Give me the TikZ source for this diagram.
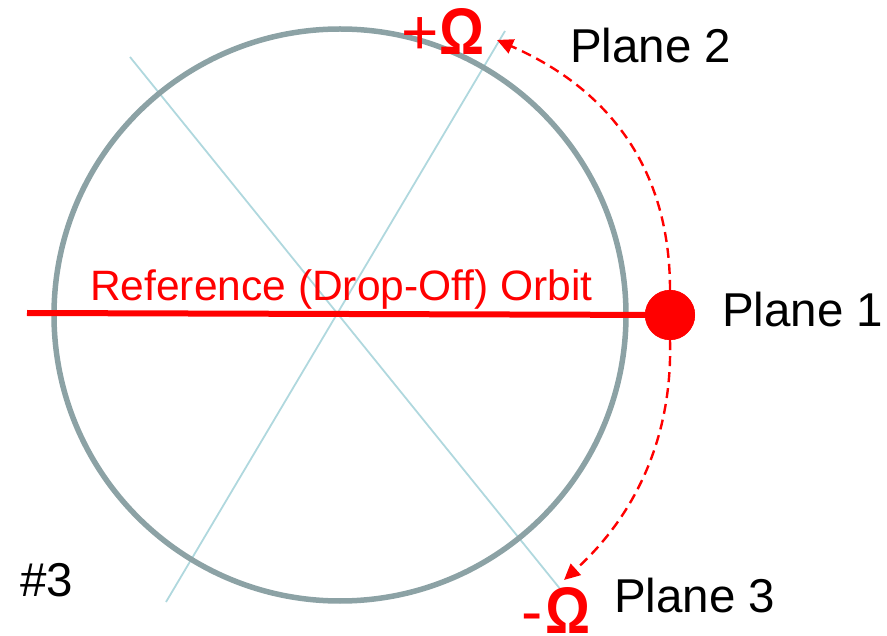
\documentclass[tikz,border=0pt]{standalone}
\usepackage{fontspec}
\usepackage{graphicx}
\setmainfont{Liberation Sans}
\usetikzlibrary{arrows.meta}
\definecolor{orbitgray}{RGB}{140,162,165}
\definecolor{planeblue}{RGB}{176,216,222}
\definecolor{myred}{RGB}{255,0,0}
\newcommand{\omg}{\resizebox{45pt}{46pt}{\bfseries\fontsize{60}{62}\selectfont Ω}}
\begin{document}
\begin{tikzpicture}[x=1pt,y=-1pt,
  lbl/.style={inner sep=0pt, anchor=base west, font=\fontsize{47.5}{50}\selectfont},
  redlbl/.style={inner sep=0pt, anchor=base west, text=myred, font=\fontsize{42.5}{46}\selectfont},
  omega/.style={inner sep=0pt, anchor=base west, text=myred, font=\fontsize{64}{66}\selectfont},
  planeline/.style={draw=planeblue, line width=1.8pt},
  moveline/.style={draw=myred, line width=2.4pt, dash pattern=on 10pt off 6pt, -{Triangle[length=16pt,width=15pt]}}]
\useasboundingbox (0,0) rectangle (887,636);
% plane lines
\coordinate (p2a) at (505,31);
\coordinate (p2b) at (166,602);
\coordinate (p3a) at (130,57);
\coordinate (p3b) at (561,590);
\draw[planeline] (p2a) -- (p2b);
\draw[planeline] (p3a) -- (p3b);
% orbit circle
\coordinate (c) at (340,315);
\draw[orbitgray, line width=5.5pt] (c) circle[radius=286];
% reference orbit line
\coordinate (refL) at (27,313);
\node[circle, fill=myred, minimum size=50pt, inner sep=0pt] (dot) at (670,315) {};
\draw[myred, line width=6pt] (refL) -- (dot.center);
\node[circle, fill=myred, minimum size=50pt, inner sep=0pt] at (dot) {};
\node[redlbl] (ref) at (90,301) {Reference (Drop-Off) Orbit};
% labels
\node[lbl] (pl1) at (722,327) {Plane 1};
\node[lbl] (pl2) at (570,63) {Plane 2};
\node[lbl] (pl3) at (614,612) {Plane 3};
\node[lbl] (h3) at (20,596) {\#3};
\node[omega] (plus) at (401,55) {+\kern1pt\omg};
\node[omega] (minus) at (521,633) {-\kern3pt\omg};
% dashed arrows
\coordinate (up) at (497,40);
\coordinate (dn) at (564,580);
\draw[moveline] (dot.north) .. controls (670,160) and (600,85) .. (up);
\draw[moveline] (dot.south) .. controls (673,450) and (625,525) .. (dn);
\end{tikzpicture}
\end{document}
